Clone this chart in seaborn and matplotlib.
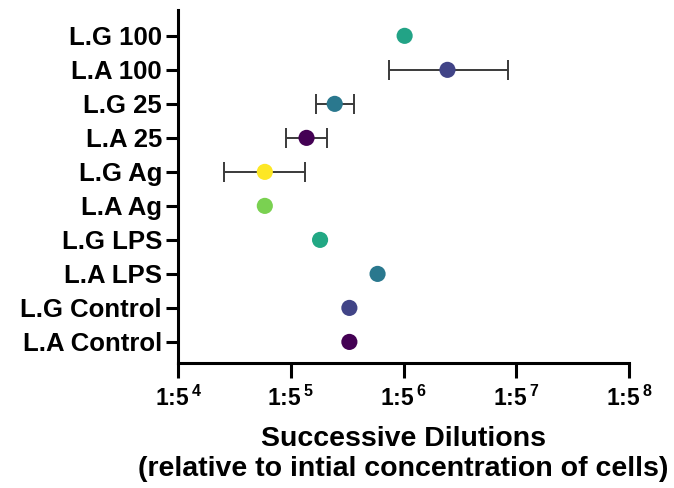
import numpy as np
import pandas as pd
import matplotlib
matplotlib.use("Agg")
import matplotlib.pyplot as plt
import seaborn as sns

# groups, top to bottom
groups = ["L.G 100", "L.A 100", "L.G 25", "L.A 25", "L.G Ag",
          "L.A Ag", "L.G LPS", "L.A LPS", "L.G Control", "L.A Control"]
# dilution exponents (base 5)
mean_exp = [6.01, 6.39, 5.39, 5.14, 4.77, 4.77, 5.26, 5.77, 5.52, 5.52]
low_exp = [np.nan, 5.87, 5.22, 4.96, 4.41, np.nan, np.nan, np.nan, np.nan, np.nan]
high_exp = [np.nan, 6.93, 5.56, 5.32, 5.13, np.nan, np.nan, np.nan, np.nan, np.nan]
colors = ["#22a386", "#414487", "#2a788e", "#440154", "#fde725",
          "#7ad151", "#22a884", "#2a788e", "#414487", "#440154"]
tick_exp = [4, 5, 6, 7, 8]

df = pd.DataFrame({"group": groups,
                   "dilution": 5.0 ** np.array(mean_exp),
                   "low": 5.0 ** np.array(low_exp),
                   "high": 5.0 ** np.array(high_exp)})

sns.set_style("ticks")
plt.rcParams["font.family"] = ["Liberation Sans", "DejaVu Sans"]
plt.rcParams["font.weight"] = "bold"
plt.rcParams["text.color"] = "black"
plt.rcParams["axes.labelcolor"] = "black"
plt.rcParams["mathtext.fontset"] = "custom"
plt.rcParams["mathtext.bf"] = "Liberation Sans:bold"
plt.rcParams["mathtext.rm"] = "Liberation Sans:bold"
plt.rcParams["mathtext.default"] = "bf"

fig = plt.figure(figsize=(6.74, 4.88), dpi=100)
ax = fig.add_axes([178 / 674, 125 / 488, 451 / 674, 353 / 488])

# error bars first so the dots sit on top
err = df.dropna(subset=["low"])
ypos = [groups.index(g) for g in err["group"]]
ax.errorbar(err["dilution"], ypos,
            xerr=[err["dilution"] - err["low"], err["high"] - err["dilution"]],
            fmt="none", ecolor="#3a3a3a", elinewidth=1.4, capsize=7,
            capthick=1.4, zorder=2)

df["ypos"] = range(len(groups))
sns.scatterplot(data=df, x="dilution", y="ypos", hue="group",
                palette=colors, s=135, linewidth=0, legend=False,
                ax=ax, zorder=3)

ax.set_xscale("log", base=5)
ax.set_xlim(5.0 ** 4, 5.0 ** 8)
ax.set_xticks([5.0 ** e for e in tick_exp])
ax.set_xticklabels([r"1:5$^{\,%d}$" % e for e in tick_exp],
                   fontsize=16.5, fontweight="bold")
ax.xaxis.set_minor_locator(matplotlib.ticker.NullLocator())

ax.set_ylim(9.62, -0.76)
ax.set_yticks(range(len(groups)))
ax.set_yticklabels(groups, fontsize=18.5, fontweight="bold")
ax.set_ylabel("")

ax.set_xlabel("Successive Dilutions\n(relative to intial concentration of cells)",
              fontsize=20.5, fontweight="bold", labelpad=11, linespacing=1.2,
              color="black")

sns.despine(ax=ax)
for side in ["left", "bottom"]:
    ax.spines[side].set_linewidth(2.2)
    ax.spines[side].set_color("black")
ax.tick_params(axis="x", length=10.5, width=2.2, pad=6, colors="black")
ax.tick_params(axis="y", length=8.5, width=2.2, pad=3, colors="black")

fig.savefig("out.png", dpi=100)
